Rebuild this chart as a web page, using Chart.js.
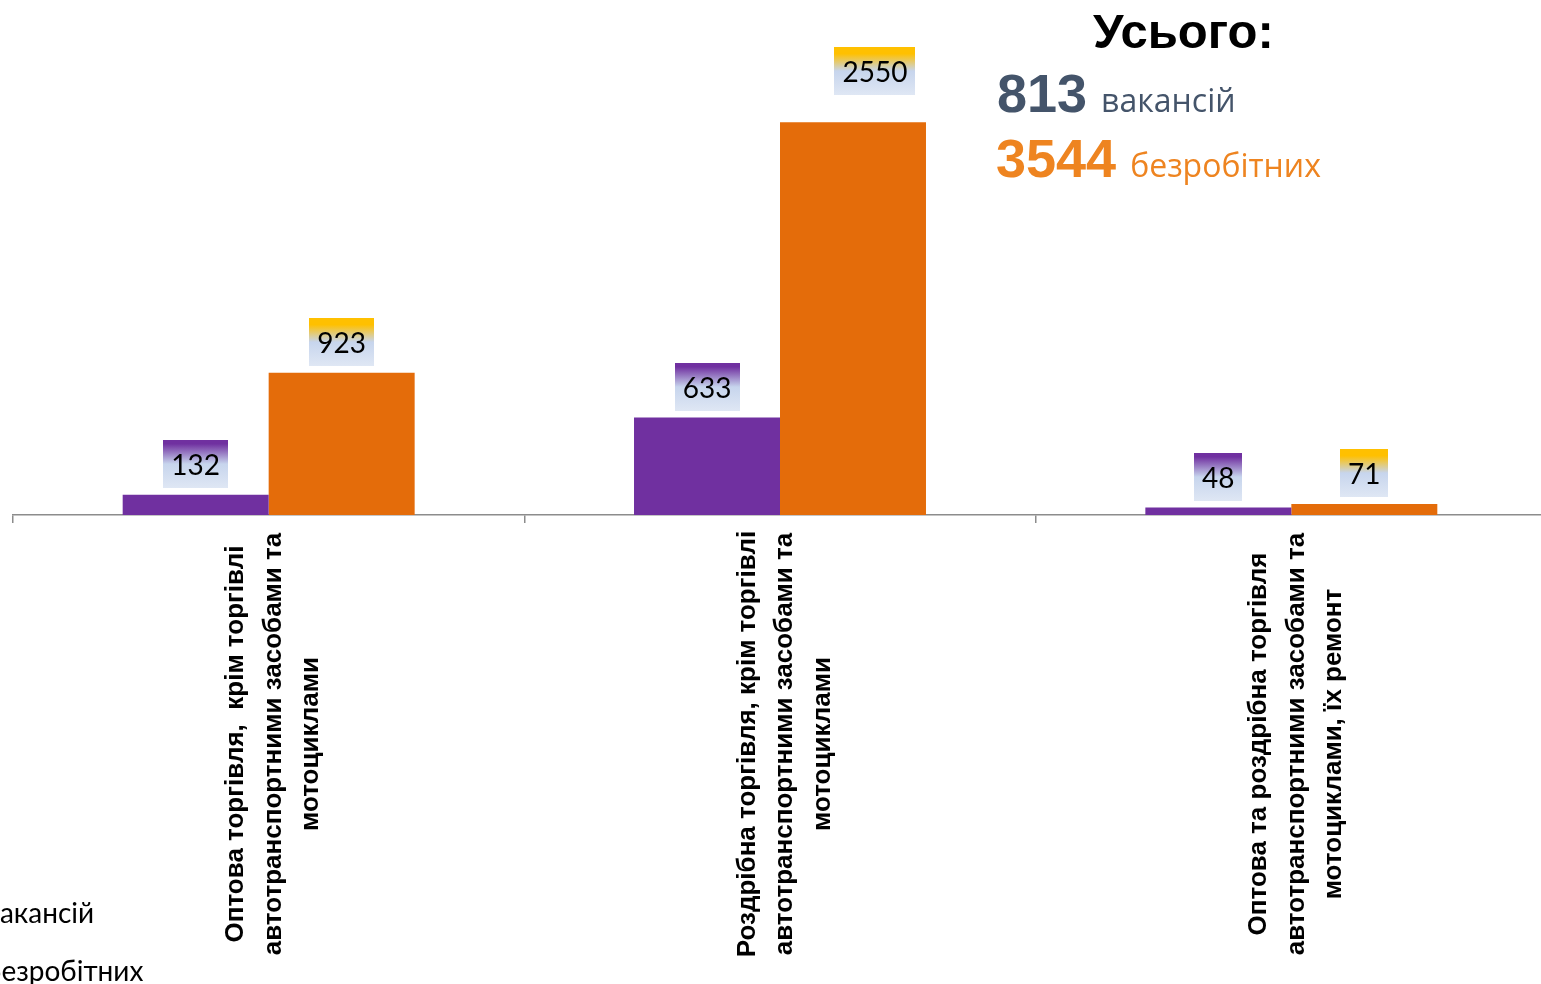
<!DOCTYPE html>
<html>
<head>
<meta charset="utf-8">
<script src="https://cdn.jsdelivr.net/npm/chart.js@4.4.1/dist/chart.umd.min.js"></script>
<style>
  html, body { margin: 0; padding: 0; background: #fff; overflow: hidden; }
  #wrap { position: relative; width: 1541px; height: 984px; overflow: hidden; }
  #box { position: absolute; left: 0; top: 0; width: 1550px; height: 984px; }
  .t { position: absolute; white-space: nowrap; line-height: 1; }
  .total { left: 1093px; top: 3px; font: bold 49px "Liberation Sans", Arial, sans-serif; color: #000; }
  .vac { left: 997px; top: 62px; color: #44546a; }
  .unemp { left: 996px; top: 127px; color: #ee8420; }
  .big { font: bold 54px "Liberation Sans", Arial, sans-serif; }
  .small { font: 32px "Open Sans", sans-serif; margin-left: 14px; }
  .leg { font: 28px Lato, "Open Sans", sans-serif; color: #000; }
</style>
</head>
<body>
<div id="wrap">
  <div id="box"><canvas id="grafico"></canvas></div>
  <div class="t total">Усього:</div>
  <div class="t vac"><span class="big">813</span><span class="small">вакансій</span></div>
  <div class="t unemp"><span class="big">3544</span><span class="small">безробітних</span></div>
  <div class="t leg" style="left:-14px; top:895px;">вакансій</div>
  <div class="t leg" style="left:-15px; top:953px;">безробітних</div>
</div>
<script>
// дані
const categorias = [
    ['Оптова торгівля,  крім торгівлі', 'автотранспортними засобами та', 'мотоциклами'],
    ['Роздрібна торгівля, крім торгівлі', 'автотранспортними засобами та', 'мотоциклами'],
    ['Оптова та роздрібна торгівля', 'автотранспортними засобами та', 'мотоциклами, їх ремонт']
];
const vakansii = [132, 633, 48];
const bezrobitni = [923, 2550, 71];
const seriesNames = ['вакансій', 'безробітних'];

// підпис 2550 у вихідному графіку зсунутий вручну
const labelShift = { '1-1': { dx: 22, dy: -20 } };

// плагін для підписів значень (боксы з градієнтом)
const valueBoxes = {
    id: 'valueBoxes',
    afterDatasetsDraw(chart) {
        const ctx = chart.ctx;
        const tops = ['#7030a0', '#ffc000'];
        ctx.save();
        ctx.font = '28px Lato, "Open Sans", sans-serif';
        chart.data.datasets.forEach((ds, di) => {
            const meta = chart.getDatasetMeta(di);
            meta.data.forEach((bar, i) => {
                const txt = String(ds.data[i]);
                const sh = labelShift[di + '-' + i] || { dx: 0, dy: 0 };
                const w = Math.round(ctx.measureText(txt).width + 16);
                const h = 48;
                const cx = bar.x + sh.dx;
                const bottom = bar.y - 7 + sh.dy;
                const x0 = Math.round(cx - w / 2);
                const y0 = Math.round(bottom - h);
                const g = ctx.createLinearGradient(0, y0, 0, y0 + h);
                g.addColorStop(0, tops[di]);
                g.addColorStop(di === 0 ? 0.08 : 0.14, tops[di]);
                g.addColorStop(0.5, '#c7d5ed');
                g.addColorStop(1, '#dfe7f4');
                ctx.fillStyle = g;
                ctx.fillRect(x0, y0, w, h);
                ctx.fillStyle = '#000';
                ctx.textAlign = 'center';
                ctx.textBaseline = 'alphabetic';
                ctx.fillText(txt, cx, y0 + h / 2 + 11);
            });
        });
        ctx.restore();
    }
};

// плагін для підписів категорій (повернуті на 90°)
const catLabels = {
    id: 'catLabels',
    afterDraw(chart) {
        const ctx = chart.ctx;
        const xs = chart.scales.x;
        const lh = 37.5;
        ctx.save();
        ctx.font = 'bold 26px "Liberation Sans", Arial, sans-serif';
        ctx.fillStyle = '#000';
        ctx.textAlign = 'center';
        ctx.textBaseline = 'middle';
        categorias.forEach((lines, i) => {
            const cx = xs.getPixelForValue(i) + 5;
            const cy = 744;
            ctx.save();
            ctx.translate(cx, cy);
            ctx.rotate(-Math.PI / 2);
            lines.forEach((ln, k) => {
                ctx.fillText(ln, 0, (k - (lines.length - 1) / 2) * lh);
            });
            ctx.restore();
        });
        ctx.restore();
    }
};

function createChart() {
    const ctx = document.getElementById('grafico').getContext('2d');
    new Chart(ctx, {
        type: 'bar',
        data: {
            labels: categorias,
            datasets: [{
                label: seriesNames[0],
                data: vakansii,
                backgroundColor: '#7030a0',
                borderWidth: 0
            }, {
                label: seriesNames[1],
                data: bezrobitni,
                backgroundColor: '#e46c0a',
                borderWidth: 0
            }]
        },
        options: {
            responsive: true,
            maintainAspectRatio: false,
            animation: false,
            events: [],
            categoryPercentage: 0.571,
            barPercentage: 1,
            layout: { padding: { left: 13, right: 3, top: 53, bottom: 0 } },
            plugins: {
                legend: { display: false },
                tooltip: { enabled: false }
            },
            scales: {
                x: {
                    grid: {
                        display: true,
                        drawOnChartArea: false,
                        drawTicks: true,
                        tickLength: 8,
                        color: '#8c8c8c',
                        lineWidth: 1.5
                    },
                    border: { display: true, color: '#8c8c8c', width: 1.5 },
                    ticks: { display: false },
                    afterFit: s => { s.height = 469; }
                },
                y: {
                    display: false,
                    min: 0,
                    max: 3000
                }
            }
        },
        plugins: [valueBoxes, catLabels]
    });
}

createChart();
</script>
</body>
</html>
